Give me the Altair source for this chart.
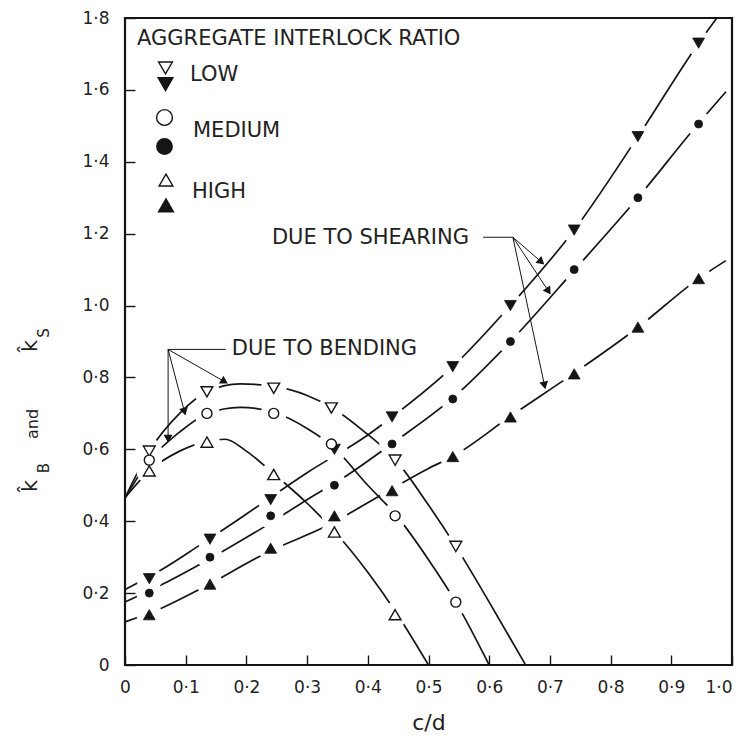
import math
import altair as alt
import pandas as pd

# ---------------- data ----------------
# measured points (markers)
x_shear = [0.04, 0.14, 0.24, 0.345, 0.44, 0.54, 0.635, 0.74, 0.845, 0.945]
low_shear = [0.24, 0.35, 0.46, 0.60, 0.69, 0.83, 1.00, 1.21, 1.47, 1.73]
med_shear = [0.20, 0.30, 0.415, 0.50, 0.615, 0.74, 0.90, 1.10, 1.30, 1.505]
high_shear = [0.14, 0.225, 0.325, 0.415, 0.485, 0.58, 0.69, 0.81, 0.94, 1.075]

x_bend = [0.04, 0.135, 0.245, 0.34, 0.445, 0.545]
low_bend = [0.595, 0.76, 0.77, 0.715, 0.57, 0.33]
med_bend = [0.57, 0.70, 0.70, 0.615, 0.415, 0.175]
x_bend_high = [0.04, 0.135, 0.245, 0.345, 0.445]
high_bend = [0.54, 0.62, 0.53, 0.37, 0.14]

# fitted curves
low_shear_fit_x = [0, 0.06, 0.12, 0.2, 0.3, 0.4, 0.44, 0.54, 0.635, 0.74, 0.845, 0.945, 0.975]
low_shear_fit_y = [0.21, 0.265, 0.33, 0.42, 0.535, 0.64, 0.69, 0.83, 1.0, 1.21, 1.47, 1.73, 1.80]
med_shear_fit_x = [0, 0.06, 0.12, 0.23, 0.3, 0.36, 0.44, 0.54, 0.635, 0.74, 0.845, 0.945, 0.99]
med_shear_fit_y = [0.175, 0.223, 0.277, 0.385, 0.46, 0.521, 0.616, 0.743, 0.90, 1.098, 1.30, 1.507, 1.595]
high_shear_fit_x = [0, 0.06, 0.12, 0.24, 0.33, 0.42, 0.5, 0.54, 0.635, 0.74, 0.845, 0.945, 0.99]
high_shear_fit_y = [0.12, 0.158, 0.208, 0.318, 0.385, 0.471, 0.547, 0.58, 0.692, 0.812, 0.939, 1.075, 1.125]

low_bend_fit_x = [0, 0.04, 0.09, 0.135, 0.19, 0.245, 0.3, 0.34, 0.39, 0.445, 0.5, 0.545, 0.6, 0.66]
low_bend_fit_y = [0.465, 0.595, 0.70, 0.76, 0.782, 0.775, 0.75, 0.717, 0.655, 0.572, 0.445, 0.33, 0.175, 0.0]
med_bend_fit_x = [0, 0.04, 0.09, 0.135, 0.19, 0.245, 0.3, 0.342, 0.4, 0.449, 0.5, 0.545, 0.6]
med_bend_fit_y = [0.465, 0.568, 0.648, 0.699, 0.717, 0.703, 0.658, 0.608, 0.50, 0.412, 0.293, 0.175, 0.0]
high_bend_fit_x = [0, 0.04, 0.09, 0.137, 0.165, 0.2, 0.243, 0.3, 0.346, 0.4, 0.449, 0.5]
high_bend_fit_y = [0.465, 0.54, 0.595, 0.623, 0.628, 0.595, 0.535, 0.45, 0.37, 0.258, 0.14, 0.0]

x_ticks = [0, 0.1, 0.2, 0.3, 0.4, 0.5, 0.6, 0.7, 0.8, 0.9, 1.0]
y_ticks = [0, 0.2, 0.4, 0.6, 0.8, 1.0, 1.2, 1.4, 1.6, 1.8]

# ---------------- styling / layout ----------------
W, H = 607, 647
YMAX = 1.8
INK = "#151515"
FONT = "DejaVu Sans"

label_expr = "datum.value == 0 ? '0' : replace(format(datum.value, '.1f'), '.', '\u00b7')"

x_axis = alt.Axis(values=x_ticks, labelExpr=label_expr, title="c/d", domain=False, grid=False,
                  tickSize=10, offset=-10, tickColor=INK, tickWidth=1.4,
                  labelPadding=14, labelFont=FONT, labelFontSize=17, labelColor="#222",
                  labelOverlap=False, labelFlush=False,
                  labelAlign={"condition": {"test": "datum.value >= 1", "value": "right"},
                              "value": "center"},
                  titleFont=FONT, titleFontSize=22, titleFontWeight="normal",
                  titleColor="#222", titlePadding=17)
y_axis = alt.Axis(values=y_ticks, labelExpr=label_expr, title=None, domain=False, grid=False,
                  tickSize=10, offset=-10, tickColor=INK, tickWidth=1.4,
                  labelPadding=16, labelFont=FONT, labelFontSize=17, labelColor="#222",
                  labelOverlap=False)

x_enc = alt.X("x:Q", scale=alt.Scale(domain=[0, 1], nice=False, zero=False), axis=x_axis)
y_enc = alt.Y("y:Q", scale=alt.Scale(domain=[0, YMAX], nice=False, zero=False), axis=y_axis)


def curve(xs, ys):
    df = pd.DataFrame({"x": xs, "y": ys})
    return alt.Chart(df).mark_line(interpolate="monotone", color=INK, strokeWidth=1.7).encode(
        x=x_enc, y=y_enc)


def halo(xs, ys):
    df = pd.DataFrame({"x": xs, "y": ys})
    return alt.Chart(df).mark_point(shape="circle", filled=True, fill="white", stroke="white",
                                    size=560, opacity=1).encode(x=x_enc, y=y_enc)


def markers(xs, ys, shape, filled, size):
    df = pd.DataFrame({"x": xs, "y": ys})
    if filled:
        m = alt.Chart(df).mark_point(shape=shape, filled=True, fill=INK, stroke=INK,
                                     strokeWidth=0.8, size=size, opacity=1)
    else:
        m = alt.Chart(df).mark_point(shape=shape, filled=True, fill="white", stroke=INK,
                                     strokeWidth=1.4, size=size, opacity=1)
    return m.encode(x=x_enc, y=y_enc)


lines = [
    curve(low_shear_fit_x, low_shear_fit_y),
    curve(med_shear_fit_x, med_shear_fit_y),
    curve(high_shear_fit_x, high_shear_fit_y),
    curve(low_bend_fit_x, low_bend_fit_y),
    curve(med_bend_fit_x, med_bend_fit_y),
    curve(high_bend_fit_x, high_bend_fit_y),
]
halos = [
    halo(x_shear, low_shear), halo(x_shear, med_shear), halo(x_shear, high_shear),
    halo(x_bend, low_bend), halo(x_bend, med_bend), halo(x_bend_high, high_bend),
]
marks = [
    markers(x_shear, low_shear, "triangle-down", True, 140),
    markers(x_shear, med_shear, "circle", True, 64),
    markers(x_shear, high_shear, "triangle-up", True, 140),
    markers(x_bend, low_bend, "triangle-down", False, 140),
    markers(x_bend, med_bend, "circle", False, 100),
    markers(x_bend_high, high_bend, "triangle-up", False, 140),
]

# frame around the plot area
frame = alt.Chart(pd.DataFrame({"a": [0]})).mark_rect(
    fillOpacity=0, stroke=INK, strokeWidth=2.2).encode(
    x=alt.value(0), x2=alt.value(W), y=alt.value(0), y2=alt.value(H))

# ---------------- annotations with leader arrows ----------------
def arrows(x0, y0, tips):
    seg, head = [], []
    for (x1, y1) in tips:
        dxp = (x1 - x0) * W
        dyp = -(y1 - y0) * H / YMAX
        L = math.hypot(dxp, dyp)
        ang = math.degrees(math.atan2(dxp, -dyp)) % 360
        seg.append({"x": x0, "y": y0, "x2": x1, "y2": y1})
        head.append({"x": x1 - 3 * dxp / L / W, "y": y1 + 3 * dyp / L / (H / YMAX), "a": ang})
    s = alt.Chart(pd.DataFrame(seg)).mark_rule(color=INK, strokeWidth=1.0).encode(
        x=x_enc, y=y_enc, x2="x2:Q", y2="y2:Q")
    h = alt.Chart(pd.DataFrame(head)).mark_point(shape="triangle-up", filled=True, fill=INK,
                                                 stroke=INK, size=30, opacity=1).encode(
        x=x_enc, y=y_enc, angle=alt.Angle("a:Q", scale=None))
    return [s, h]


def note(text, x, y):
    df = pd.DataFrame({"x": [x], "y": [y], "t": [text]})
    return alt.Chart(df).mark_text(align="left", baseline="middle", font=FONT, fontSize=21,
                                   color="#222").encode(x=x_enc, y=y_enc, text="t:N")


def leader(xa, xb, y):
    df = pd.DataFrame({"x": [xa], "x2": [xb], "y": [y]})
    return alt.Chart(df).mark_rule(color=INK, strokeWidth=1.0).encode(x=x_enc, x2="x2:Q", y=y_enc)


ann = []
ann.append(note("DUE TO SHEARING", 0.242, 1.187))
ann.append(leader(0.59, 0.639, 1.19))
ann += arrows(0.639, 1.19, [(0.689, 1.117), (0.700, 1.034), (0.692, 0.771)])
ann.append(note("DUE TO BENDING", 0.176, 0.878))
ann.append(leader(0.071, 0.166, 0.878))
ann += arrows(0.071, 0.878, [(0.1675, 0.785), (0.099, 0.698), (0.071, 0.623)])

# ---------------- legend drawn inside the frame (pixel positions) ----------------
one = pd.DataFrame({"a": [0]})


def px_text(text, x, y, size=21, angle=0, align="left"):
    return alt.Chart(one).mark_text(text=text, align=align, baseline="middle", font=FONT,
                                    fontSize=size, angle=angle, color="#222").encode(
        x=alt.value(x), y=alt.value(y))


def px_sym(x, y, shape, filled, size):
    if filled:
        m = alt.Chart(one).mark_point(shape=shape, filled=True, fill=INK, stroke=INK,
                                      size=size, opacity=1)
    else:
        m = alt.Chart(one).mark_point(shape=shape, filled=True, fill="white", stroke=INK,
                                      strokeWidth=1.4, size=size, opacity=1)
    return m.encode(x=alt.value(x), y=alt.value(y))


legend = [
    px_text("AGGREGATE INTERLOCK RATIO", 12, 21),
    px_sym(40.5, 50, "triangle-down", False, 190),
    px_sym(40.5, 66, "triangle-down", True, 190),
    px_text("LOW", 65, 57),
    px_sym(39.5, 99.5, "circle", False, 250),
    px_sym(39.5, 128.5, "circle", True, 220),
    px_text("MEDIUM", 68, 113),
    px_sym(41, 162, "triangle-up", False, 190),
    px_sym(41, 187.5, "triangle-up", True, 190),
    px_text("HIGH", 67, 174),
]

# y-axis title:  k̂_B  and  k̂_S  (rotated)
ytitle = [
    px_text("k\u0302", -94, 468, size=21, angle=270, align="center"),
    px_text("B", -81, 450, size=15, angle=270, align="center"),
    px_text("and", -92, 406, size=16, angle=270, align="center"),
    px_text("k\u0302", -94, 328, size=21, angle=270, align="center"),
    px_text("S", -81, 315, size=15, angle=270, align="center"),
]

chart = alt.layer(*lines, *halos, *marks, frame, *ann, *legend, *ytitle).properties(
    width=W, height=H,
    padding={"left": 117, "top": 10, "right": 2, "bottom": 70},
    autosize=alt.AutoSizeParams(type="none"),
    background="white",
).configure_view(stroke=INK, strokeWidth=2)

chart.save("out.html", embed_options={"renderer": "svg", "actions": False})
